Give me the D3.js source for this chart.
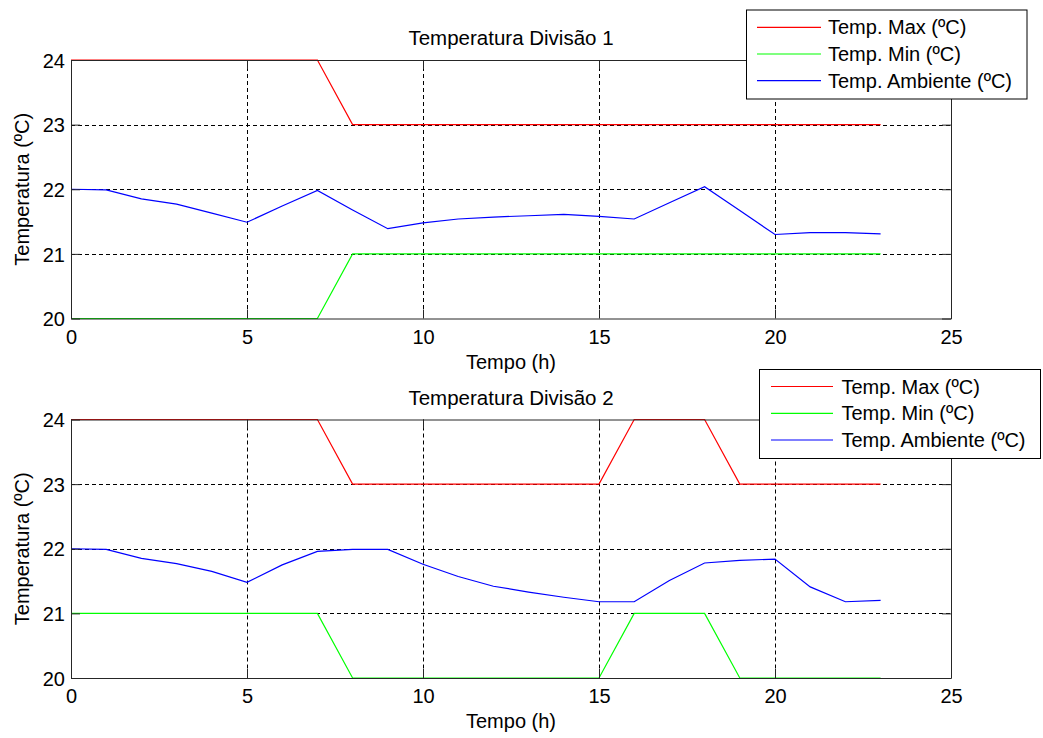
<!DOCTYPE html>
<html>
<head>
<meta charset="utf-8">
<script src="https://cdn.jsdelivr.net/npm/d3@7"></script>
<style>
  html, body { margin: 0; padding: 0; background: #fff; }
  svg { display: block; }
  text { font-family: "Liberation Sans", Arial, sans-serif; fill: #000; }
</style>
</head>
<body>
<svg id="chart" width="1043" height="738"></svg>
<script>
// ---- data ----
const hours = [0,1,2,3,4,5,6,7,8,9,10,11,12,13,14,15,16,17,18,19,20,21,22,23];

const div1Max = [24,24,24,24,24,24,24,24,23,23,23,23,23,23,23,23,23,23,23,23,23,23,23,23];
const div1Min = [20,20,20,20,20,20,20,20,21,21,21,21,21,21,21,21,21,21,21,21,21,21,21,21];
const div1Amb = [22.00,21.99,21.85,21.77,21.63,21.49,21.74,21.98,21.68,21.39,21.48,21.54,21.57,21.59,21.61,21.58,21.54,21.79,22.04,21.67,21.30,21.33,21.33,21.31];

const div2Max = [24,24,24,24,24,24,24,24,23,23,23,23,23,23,23,23,24,24,24,23,23,23,23,23];
const div2Min = [21,21,21,21,21,21,21,21,20,20,20,20,20,20,20,20,21,21,21,20,20,20,20,20];
const div2Amb = [22.00,21.99,21.85,21.77,21.65,21.48,21.75,21.96,21.99,21.99,21.76,21.57,21.42,21.33,21.25,21.18,21.18,21.51,21.78,21.82,21.84,21.41,21.18,21.20];

const titles = ["Temperatura Divisão 1", "Temperatura Divisão 2"];
const legendLabels = ["Temp. Max (ºC)", "Temp. Min (ºC)", "Temp. Ambiente (ºC)"];
const xLabel = "Tempo (h)";
const yLabel = "Temperatura (ºC)";
const xTicks = [0,5,10,15,20,25];
const yTicks = [20,21,22,23,24];
const seriesColors = ["#ff0000", "#00ff00", "#0000ff"];

// ---- layout ----
const svg = d3.select("#chart");
const left = 71, right = 951;
const panels = [
  { top: 60, bottom: 318.5, series: [div1Max, div1Min, div1Amb], title: titles[0],
    legend: { x: 746.5, y: 10, w: 280.5, h: 89, lineX0: 757, lineX1: 821, textX: 828, rows: [27.3, 54, 80.7] } },
  { top: 419.5, bottom: 678, series: [div2Max, div2Min, div2Amb], title: titles[1],
    legend: { x: 759.5, y: 369.5, w: 281, h: 89, lineX0: 771, lineX1: 833, textX: 841.5, rows: [386.5, 413.3, 440] } }
];

const x = d3.scaleLinear().domain([0, 25]).range([left, right]);

panels.forEach(p => {
  const y = d3.scaleLinear().domain([20, 24]).range([p.bottom, p.top]);
  const g = svg.append("g");

  // background
  g.append("rect").attr("x", left).attr("y", p.top)
    .attr("width", right - left).attr("height", p.bottom - p.top).attr("fill", "#fff");

  // grid
  g.append("g").selectAll("line").data(xTicks.slice(1, -1)).join("line")
    .attr("x1", d => Math.round(x(d)) + 0.5).attr("x2", d => Math.round(x(d)) + 0.5)
    .attr("y1", p.top).attr("y2", p.bottom)
    .attr("stroke", "#000").attr("stroke-width", 1).attr("stroke-dasharray", "4,3");
  g.append("g").selectAll("line").data(yTicks.slice(1, -1)).join("line")
    .attr("y1", d => Math.round(y(d)) + 0.5).attr("y2", d => Math.round(y(d)) + 0.5)
    .attr("x1", left).attr("x2", right)
    .attr("stroke", "#000").attr("stroke-width", 1).attr("stroke-dasharray", "4,3");

  // series
  const line = d3.line().x((d, i) => x(hours[i])).y(d => y(d));
  p.series.forEach((s, k) => {
    g.append("path").datum(s).attr("d", line)
      .attr("fill", "none").attr("stroke", seriesColors[k]).attr("stroke-width", 1.2);
  });

  // axes (ticks inward)
  const axB = g.append("g").attr("transform", `translate(0,${p.bottom})`)
    .call(d3.axisBottom(x).tickValues(xTicks).tickFormat(d3.format("d")).tickSizeInner(-9).tickSizeOuter(0));
  axB.selectAll("text").attr("y", 25).attr("dy", 0).style("font-size", "20px");
  const axT = g.append("g").attr("transform", `translate(0,${p.top})`)
    .call(d3.axisTop(x).tickValues(xTicks).tickFormat("").tickSizeInner(-9).tickSizeOuter(0));
  const axL = g.append("g").attr("transform", `translate(${left},0)`)
    .call(d3.axisLeft(y).tickValues(yTicks).tickFormat(d3.format("d")).tickSizeInner(-9).tickSizeOuter(0));
  axL.selectAll("text").attr("x", -6).attr("dy", "0.36em").style("font-size", "20px");
  const axR = g.append("g").attr("transform", `translate(${right},0)`)
    .call(d3.axisRight(y).tickValues(yTicks).tickFormat("").tickSizeInner(-9).tickSizeOuter(0));
  [axB, axT, axL, axR].forEach(a => {
    a.selectAll("line").attr("stroke", "#262626");
    a.select(".domain").attr("stroke", "#262626");
    a.selectAll("text").attr("fill", "#000").style("font-family", "'Liberation Sans', Arial, sans-serif");
  });

  // title
  g.append("text").attr("x", (left + right) / 2).attr("y", p.top - 15)
    .attr("text-anchor", "middle").style("font-size", "20.5px").text(p.title);
  // x label
  g.append("text").attr("x", (left + right) / 2).attr("y", p.bottom + 50)
    .attr("text-anchor", "middle").style("font-size", "20px").text(xLabel);
  // y label
  g.append("text").attr("transform", `translate(28.5,${(p.top + p.bottom) / 2}) rotate(-90)`)
    .attr("text-anchor", "middle").style("font-size", "20px").text(yLabel);

  // legend
  const L = p.legend;
  const lg = svg.append("g");
  lg.append("rect").attr("x", L.x).attr("y", L.y).attr("width", L.w).attr("height", L.h)
    .attr("fill", "#fff").attr("stroke", "#000").attr("stroke-width", 1);
  legendLabels.forEach((lab, k) => {
    lg.append("line").attr("x1", L.lineX0).attr("x2", L.lineX1)
      .attr("y1", L.rows[k]).attr("y2", L.rows[k])
      .attr("stroke", seriesColors[k]).attr("stroke-width", 1.2);
    lg.append("text").attr("x", L.textX).attr("y", L.rows[k]).attr("dy", "0.35em")
      .style("font-size", "20px").text(lab);
  });
});
</script>
</body>
</html>
